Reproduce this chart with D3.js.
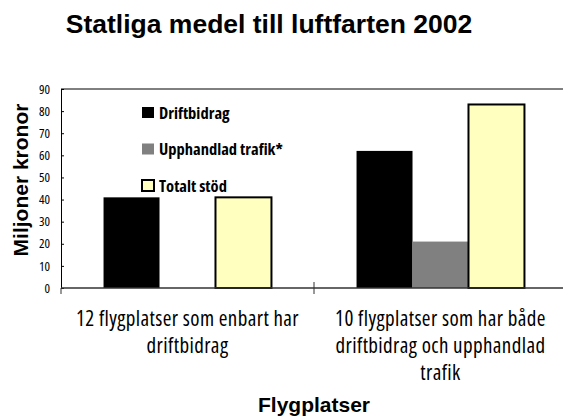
<!DOCTYPE html>
<html>
<head>
<meta charset="utf-8">
<script src="https://cdn.jsdelivr.net/npm/d3@7"></script>
<style>
  body { margin: 0; background: #fff; }
  svg { display: block; }
</style>
</head>
<body>
<svg width="563" height="417"></svg>
<script>
// data
var categories = ["12 flygplatser som enbart har driftbidrag", "10 flygplatser som har både driftbidrag och upphandlad trafik"]
var categoryLines = [
    ["12 flygplatser som enbart har", "driftbidrag"],
    ["10 flygplatser som har både", "driftbidrag och upphandlad", "trafik"]
]
var series = ["Driftbidrag", "Upphandlad trafik*", "Totalt stöd"]
var driftbidrag = [41, 62]
var upphandlad = [0, 21]
var totalt = [41, 83]
var yTicks = [0, 10, 20, 30, 40, 50, 60, 70, 80, 90]

var values = [driftbidrag, upphandlad, totalt]
var data = []
categories.forEach(function(c, ci) {
    series.forEach(function(s, si) {
        data.push({category: c, series: s, value: values[si][ci]})
    })
})

var svg = d3.select('svg')
var margin = ({top: 89, right: -4, bottom: 129, left: 61})
var width = 563, height = 417
var condensed = '"Open Sans", sans-serif'
var arial = 'Arial, "Liberation Sans", sans-serif'

var x0 = d3.scaleBand()
    .domain(categories)
    .range([margin.left, width - margin.right])

var x1 = d3.scaleBand()
    .domain(series)
    .range([0, x0.bandwidth()])
    .paddingOuter(0.76)

var y = d3.scaleLinear()
    .domain([0, 90])
    .range([height - margin.bottom, margin.top])

var color = d3.scaleOrdinal().domain(series).range(["#000000", "#808080", "#FFFFC0"])

// title
svg.append('text')
    .attr('x', 269)
    .attr('y', 33)
    .attr('text-anchor', 'middle')
    .attr('font-family', arial)
    .attr('font-weight', 'bold')
    .attr('font-size', '26.5px')
    .text('Statliga medel till luftfarten 2002')

// top border of plot area
svg.append('line')
    .attr('x1', margin.left).attr('x2', width - margin.right)
    .attr('y1', y(90)).attr('y2', y(90))
    .attr('stroke', '#000')

// bars
svg.append('g').selectAll('rect')
    .data(data.filter(d => d.value > 0))
    .enter().append('rect')
        .attr('x', d => x0(d.category) + x1(d.series))
        .attr('y', d => y(d.value))
        .attr('width', x1.bandwidth())
        .attr('height', d => y(0) - y(d.value))
        .attr('fill', d => color(d.series))
        .attr('stroke', d => d.series == 'Totalt stöd' ? '#000' : 'none')
        .attr('stroke-width', 2)

// y axis
svg.append('g')
    .attr('transform', `translate(${margin.left},0)`)
    .call(d3.axisLeft(y).tickValues(yTicks).tickSizeInner(-3).tickSizeOuter(0).tickPadding(11))
    .call(g => g.selectAll('text').attr('font-family', condensed).attr('font-size', '13px')
        .style('font-stretch', '75%').attr('fill', '#000'))
    .call(g => g.selectAll('line, path').attr('stroke', '#000'))

// x axis line
svg.append('line')
    .attr('x1', margin.left).attr('x2', width - margin.right)
    .attr('y1', y(0)).attr('y2', y(0))
    .attr('stroke', '#333').attr('stroke-width', 1.5)

// category boundary ticks
var bounds = categories.map(c => x0(c)).concat([x0.range()[1]])
svg.append('g').selectAll('line')
    .data(bounds)
    .enter().append('line')
        .attr('x1', d => d).attr('x2', d => d)
        .attr('y1', (d, i) => i == 0 ? y(0) : y(0) - 6)
        .attr('y2', y(0) + 6)
        .attr('stroke', '#333')

// category labels
svg.append('g').selectAll('text')
    .data(categories)
    .enter().append('text')
        .attr('text-anchor', 'middle')
        .attr('font-family', condensed)
        .attr('font-size', '21px')
        .attr('letter-spacing', '0.4px')
        .style('font-stretch', '75%')
        .attr('fill', '#000')
        .each(function(c, i) {
            d3.select(this).selectAll('tspan')
                .data(categoryLines[i])
                .enter().append('tspan')
                    .attr('x', x0(c) + x0.bandwidth() / 2)
                    .attr('y', (d, j) => 326 + j * 27)
                    .text(d => d)
        })

// axis titles
svg.append('text')
    .attr('x', 314)
    .attr('y', 412)
    .attr('text-anchor', 'middle')
    .attr('font-family', arial)
    .attr('font-weight', 'bold')
    .attr('font-size', '21px')
    .text('Flygplatser')

svg.append('text')
    .attr('transform', 'translate(28,180) rotate(-90)')
    .attr('text-anchor', 'middle')
    .attr('font-family', arial)
    .attr('font-weight', 'bold')
    .attr('font-size', '21px')
    .text('Miljoner kronor')

// legend
var legend = svg.append('g').selectAll('g')
    .data(series)
    .enter().append('g')
        .attr('transform', (d, i) => `translate(142,${107 + i * 36.5})`)
legend.append('rect')
    .attr('width', 12).attr('height', 11)
    .attr('fill', d => color(d))
    .attr('stroke', d => d == 'Totalt stöd' ? '#000' : 'none')
    .attr('stroke-width', 2)
legend.append('text')
    .attr('x', 17)
    .attr('y', 11.5)
    .attr('font-family', condensed)
    .attr('font-weight', 'bold')
    .attr('font-size', '16.5px')
    .style('font-stretch', '75%')
    .text(d => d)
</script>
</body>
</html>
